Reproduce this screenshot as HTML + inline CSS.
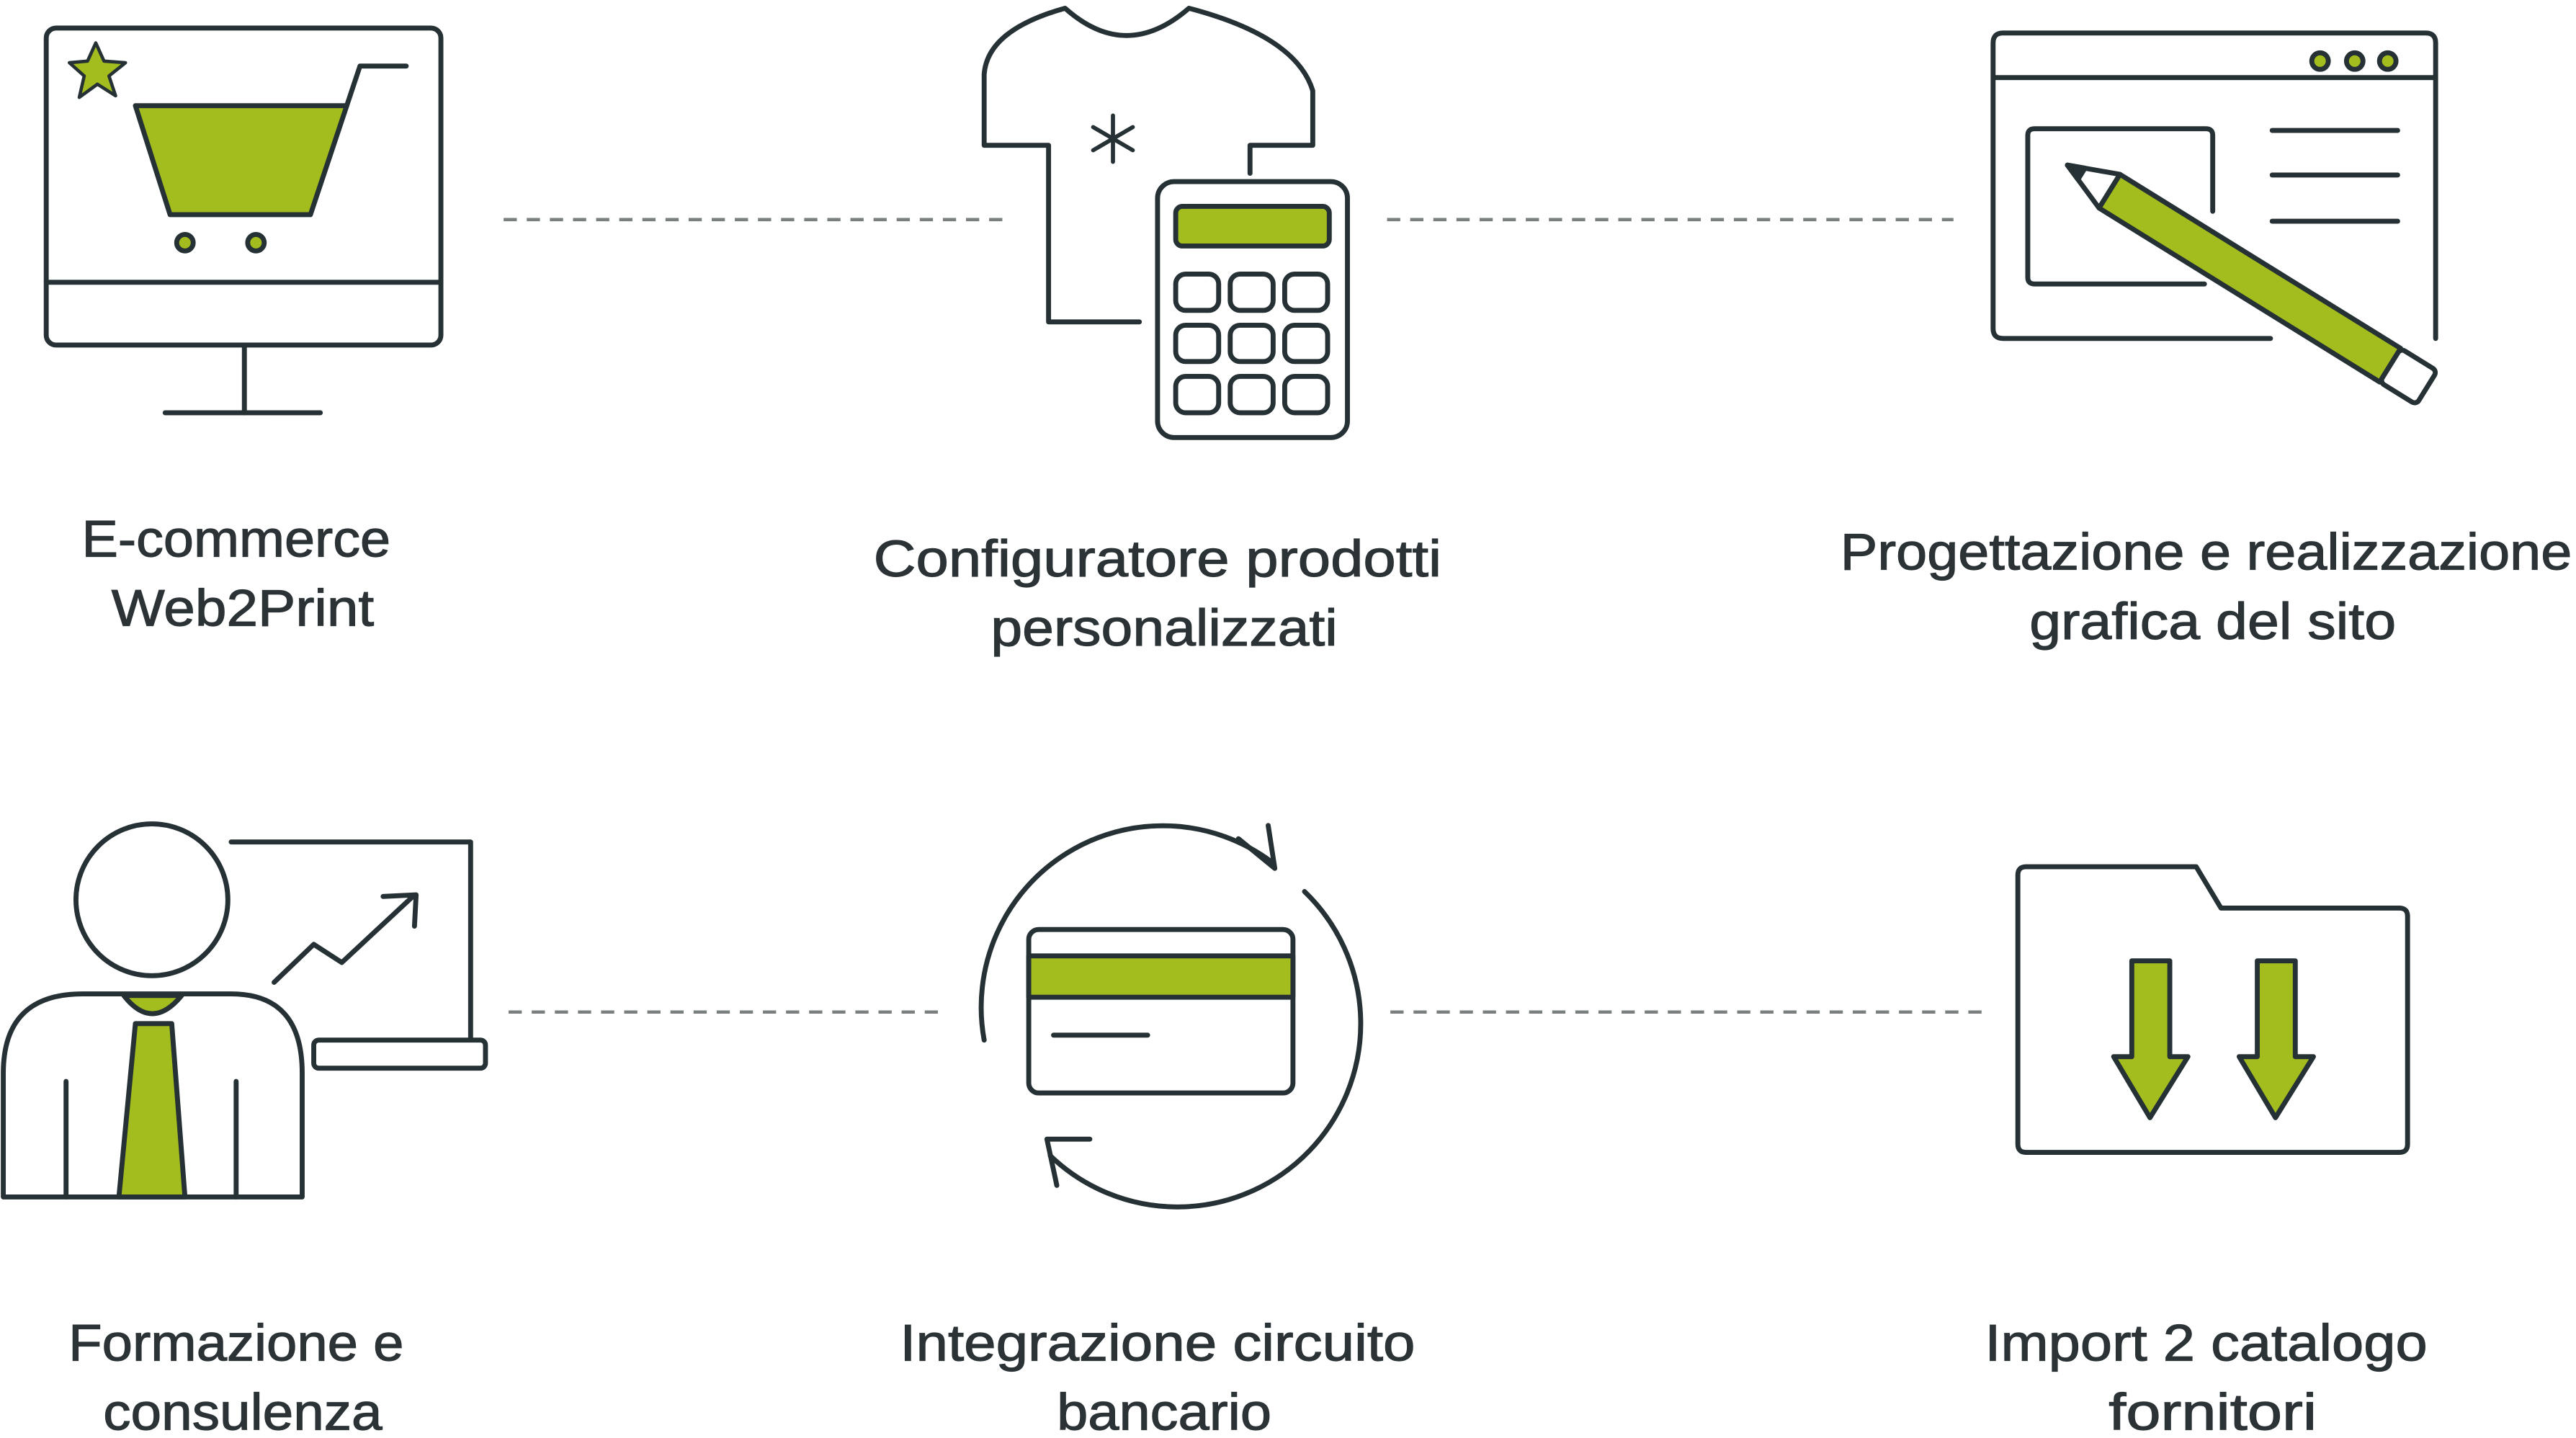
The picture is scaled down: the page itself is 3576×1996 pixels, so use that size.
<!DOCTYPE html>
<html><head><meta charset="utf-8"><style>
html,body{margin:0;padding:0;background:#fff;}
svg{display:block;}
text{font-family:"Liberation Sans",sans-serif;font-size:31px;fill:#2b3336;stroke:#2b3336;stroke-width:0.5;text-anchor:middle;}
</style></head><body>
<svg width="3576" height="1996" viewBox="0 0 1560 871" preserveAspectRatio="none" xmlns="http://www.w3.org/2000/svg">
<g fill="none" stroke="#263135" stroke-width="3" stroke-linejoin="round" stroke-linecap="round">
<g stroke="#7a7f80" stroke-width="2" stroke-dasharray="8,6" stroke-linecap="butt">
<line x1="305" y1="133" x2="612" y2="133"/><line x1="840" y1="133" x2="1183" y2="133"/>
<line x1="308" y1="613" x2="568" y2="613"/><line x1="842" y1="613" x2="1202" y2="613"/>
</g>
<rect x="28" y="17" width="239" height="192" rx="6" fill="#fff"/>
<line x1="28" y1="171" x2="267" y2="171"/>
<line x1="148" y1="209" x2="148" y2="250"/><line x1="100" y1="250" x2="194" y2="250"/>
<polygon points="82,64 210,64 188,130 103,130" fill="#a3bd1f"/>
<polyline points="210,64 218,40 246,40"/>
<circle cx="112" cy="147" r="5" fill="#a3bd1f"/><circle cx="155" cy="147" r="5" fill="#a3bd1f"/>
<polygon points="58,26 63,37 76,38 66,46 70,58 59,51 48,59 51,46 42,38 53,37" fill="#a3bd1f" stroke-width="2"/>
<path d="M690,195 L635,195 L635,88 L596,88 L596,45 Q598,18 645,5 Q682,38 720,5 Q785,22 795,55 L795,88 L757,88 L757,105"/>
<g stroke-width="2.5"><line x1="674" y1="70" x2="674" y2="98"/><line x1="662" y1="77" x2="686" y2="91"/><line x1="662" y1="91" x2="686" y2="77"/></g>
<rect x="701" y="110" width="115" height="155" rx="10" fill="#fff"/>
<rect x="712" y="125" width="93" height="24" rx="4" fill="#a3bd1f"/>
<g>
<rect x="712" y="166" width="26" height="22" rx="6"/><rect x="745" y="166" width="26" height="22" rx="6"/><rect x="778" y="166" width="26" height="22" rx="6"/>
<rect x="712" y="197" width="26" height="22" rx="6"/><rect x="745" y="197" width="26" height="22" rx="6"/><rect x="778" y="197" width="26" height="22" rx="6"/>
<rect x="712" y="228" width="26" height="22" rx="6"/><rect x="745" y="228" width="26" height="22" rx="6"/><rect x="778" y="228" width="26" height="22" rx="6"/>
</g>
<path d="M1375,205 L1213,205 Q1207,205 1207,199 L1207,26 Q1207,20 1213,20 L1469,20 Q1475,20 1475,26 L1475,205"/>
<line x1="1207" y1="47" x2="1475" y2="47"/>
<circle cx="1405" cy="37" r="5" fill="#a3bd1f"/><circle cx="1426" cy="37" r="5" fill="#a3bd1f"/><circle cx="1446" cy="37" r="5" fill="#a3bd1f"/>
<path d="M1335,172 L1232,172 Q1228,172 1228,168 L1228,82 Q1228,78 1232,78 L1336,78 Q1340,78 1340,82 L1340,128"/>
<line x1="1376" y1="79" x2="1452" y2="79"/><line x1="1376" y1="106" x2="1452" y2="106"/><line x1="1376" y1="134" x2="1452" y2="134"/>
<g transform="translate(1252,100) rotate(31.8)">
<polygon points="0,0 30,-12 30,12" fill="#fff"/>
<polygon points="0,0 10,-4 10,4" fill="#263135"/>
<rect x="30" y="-12" width="200" height="24" fill="#a3bd1f"/>
<rect x="230" y="-12" width="26" height="24" rx="3" fill="#fff"/>
</g>
<circle cx="92" cy="545" r="46"/>
<path d="M140,510 L285,510 L285,630"/>
<rect x="190" y="630" width="104" height="17" rx="3" fill="#fff"/>
<path d="M2,725 L2,650 Q2,602 50,602 L140,602 Q183,602 183,650 L183,725 Z" fill="#fff"/>
<path d="M75,603 Q92,625 110,603 Z" fill="#a3bd1f"/>
<polygon points="82,620 104,620 112,725 72,725" fill="#a3bd1f"/>
<line x1="40" y1="655" x2="40" y2="725"/><line x1="143" y1="655" x2="143" y2="725"/>
<polyline points="166,595 190,572 207,583 250,543"/>
<polyline points="232,543 252,542 251,561"/>
<path d="M596,630 A110,110 0 0 1 770,522"/>
<polyline points="750,508 772,526 768,500"/>
<path d="M790,540 A110,110 0 0 1 636,700"/>
<polyline points="660,690 634,690 640,718"/>
<rect x="623" y="563" width="160" height="99" rx="6" fill="#fff"/>
<rect x="623" y="579" width="160" height="25" fill="#a3bd1f"/>
<line x1="638" y1="627" x2="695" y2="627"/>
<path d="M1222,530 Q1222,525 1227,525 L1330,525 L1345,550 L1453,550 Q1458,550 1458,555 L1458,693 Q1458,698 1453,698 L1227,698 Q1222,698 1222,693 Z"/>
<polygon points="1291,582 1314,582 1314,640 1325,640 1302,677 1280,640 1291,640" fill="#a3bd1f"/>
<polygon points="1367,582 1390,582 1390,640 1401,640 1378,677 1356,640 1367,640" fill="#a3bd1f"/>
</g>
<g>
<text x="143" y="337" textLength="187" lengthAdjust="spacingAndGlyphs">E-commerce</text>
<text x="147" y="379" textLength="159" lengthAdjust="spacingAndGlyphs">Web2Print</text>
<text x="701" y="349" textLength="344" lengthAdjust="spacingAndGlyphs">Configuratore prodotti</text>
<text x="705" y="391" textLength="210" lengthAdjust="spacingAndGlyphs">personalizzati</text>
<text x="1336" y="345" textLength="443" lengthAdjust="spacingAndGlyphs">Progettazione e realizzazione</text>
<text x="1340" y="387" textLength="222" lengthAdjust="spacingAndGlyphs">grafica del sito</text>
<text x="143" y="824" textLength="203" lengthAdjust="spacingAndGlyphs">Formazione e</text>
<text x="147" y="866" textLength="169" lengthAdjust="spacingAndGlyphs">consulenza</text>
<text x="701" y="824" textLength="312" lengthAdjust="spacingAndGlyphs">Integrazione circuito</text>
<text x="705" y="866" textLength="130" lengthAdjust="spacingAndGlyphs">bancario</text>
<text x="1336" y="824" textLength="268" lengthAdjust="spacingAndGlyphs">Import 2 catalogo</text>
<text x="1340" y="866" textLength="126" lengthAdjust="spacingAndGlyphs">fornitori</text>
</g>
</svg>
</body></html>
